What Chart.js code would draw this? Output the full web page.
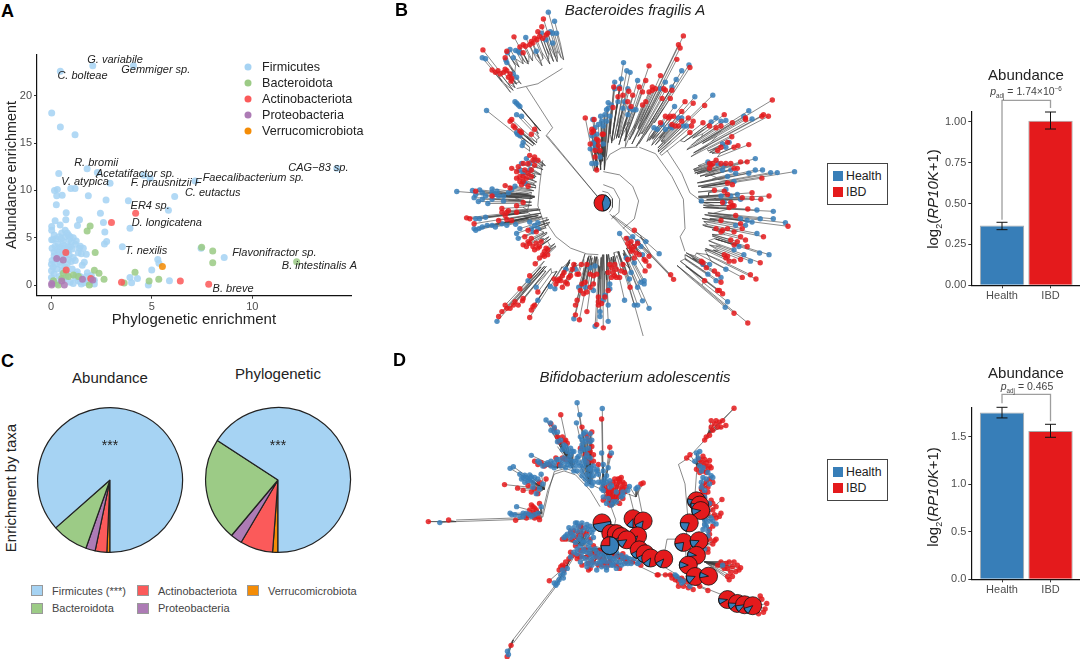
<!DOCTYPE html>
<html>
<head>
<meta charset="utf-8">
<title>Enrichment by taxa</title>
<script src="https://cdn.jsdelivr.net/npm/chart.js@4"></script>
<style>
  body { margin: 0; background: #fff; }
  #page { position: relative; width: 1080px; height: 663px; overflow: hidden; font-family: "Liberation Sans", Arial, sans-serif; color: #222; }
  canvas { position: absolute; }
  .t { position: absolute; transform: translate(-50%, -50%); white-space: nowrap; }
  .l { position: absolute; transform: translate(0, -50%); white-space: nowrap; }
  .letter { position: absolute; font-weight: bold; font-size: 18px; color: #000; transform: translate(0, -50%); }
  .dot { position: absolute; width: 7px; height: 7px; border-radius: 50%; transform: translate(-50%, -50%); }
  .sw { position: absolute; box-sizing: border-box; border: 1px solid #999; }
  .box { position: absolute; box-sizing: border-box; border: 1px solid #444; }
  sub, sup { font-size: 60%; line-height: 0; }
</style>
</head>
<body>
<div id="page">
  <canvas id="scatterA" width="380" height="295" style="left:0;top:40px"></canvas>
  <canvas id="pieAbundance" width="150" height="150" style="left:35px;top:405px"></canvas>
  <canvas id="piePhylo" width="150" height="150" style="left:203px;top:405px"></canvas>
  <canvas id="treeB" width="420" height="340" style="left:390px;top:0"></canvas>
  <canvas id="treeD" width="420" height="313" style="left:390px;top:350px"></canvas>
  <canvas id="barsB" width="175" height="250" style="left:905px;top:60px"></canvas>
  <canvas id="barsD" width="175" height="250" style="left:905px;top:360px"></canvas>
</div>
<script>
// Panel A: [phylogenetic enrichment, abundance enrichment]
const firmicutes = [
  [2.07,23.2],[4.09,23.2],[0.46,22.6],[0.03,18.2],[0.46,16.7],[1.19,15.9],[1.79,12.3],[0.38,11.8],[2.3,11.9],[14.2,12.35],
  [4.92,11.3],[4.6,11.6],[7.15,11],[2.93,10.75],[0.17,10],[0.31,10.1],[0.98,10.2],[1.19,10.2],[0.28,9.45],[0.55,9.5],
  [1.85,9.45],[2.73,9],[3.84,8.9],[6.14,9.35],[5.83,7.9],[0.26,8.5],[0.75,7.65],[2.45,7.6],[0.2,6.8],[0.73,6.9],
  [1.41,6.9],[2.6,6.6],[1.31,6.3],[0.45,6.35],[0.03,6.2],[3.92,6],[0.03,5.8],[2.67,5.6],[0.7,5.8],[0.53,5.5],
  [0.86,5.3],[2.76,4.6],[2.65,4.35],[3.54,4.05],[7.45,3.9],[8.6,2.9],[5.3,2.7],[5.36,2.3],[5,1.6],[5.88,0.45],
  [4.83,0],[4,0.25],[4.29,0.7],[3.92,0.8],[0.03,4.8],[0.1,4.8],[0.2,4.1],[0.05,3.9],[0.35,4.3],[0.45,4.0],
  [0.6,4.6],[0.7,5.1],[0.9,4.8],[1,4.5],[1.1,5],[1.2,4.3],[1.45,4.1],[1.6,3.9],[1.35,3.4],[1.5,3.3],
  [1.75,3.25],[1.65,2.4],[1.55,2.1],[0.85,4.1],[0.75,3.6],[0.55,3.3],[0.3,3.7],[0.15,3.5],[0.9,3.2],[1.1,2.9],
  [1,2.5],[0.8,2.2],[0.45,2.4],[0.25,2.7],[0.05,2.6],[0.02,2.2],[0.1,1.9],[0.02,1.5],[0.3,1.7],[0.15,1.2],
  [0.02,0.8],[0.4,0.9],[0.65,0.6],[0.95,0.3],[1.2,0.8],[1.35,0.45],[1.5,0.1],[1.65,0.25],[1.8,1.3],[2,1],
  [1.1,0.15],[2.15,0.1],[1.45,0.9],[1.75,0.9],[2.15,0.5],[0.3,0.15],[0.8,1.3],[1.25,1.1],
  [0.25,4.9],[0.5,4.9],[0.8,5.5],[0.95,5.1],[0.65,4.2],[0.4,3.5],[0.6,3.9],[1.05,3.8],[0.85,3.6],[0.95,4.05],
  [1.25,4.65],[0.15,3.1],[0.35,3.0],[0.65,2.9],[0.85,2.7],[1.2,2.6],[0.7,1.9],[0.5,2.1],[0.2,2.2],[0.1,0.5],
  [0.55,1.5],[1.05,1.7],[1.3,1.4],[1.55,0.6],[1.85,0.35],[1.45,0.35],[0.15,5.3],[0.4,5.1],[1.4,3.9],[0.75,0.9]
];
const bacteroidota = [
  [7.48,4],[8.03,3.6],[8.03,2.35],[12.2,2.45],[1.94,6.25],[1.79,5.7],[2.19,3.45],[2.15,1.55],[2.38,1.25],[2.63,0.6],
  [4.17,1.35],[3.63,0.2],[4.87,0.42],[5.35,0.6],[1.9,0],[0.61,1.25],[0.86,0.9],[1.11,1.05],[0.36,0],[1.36,0.9],
  [0.53,0.7],[0.12,0.45]
];
const actinobacteriota = [
  [4.2,7.6],[3,6.6],[0.75,1.6],[3.5,0.3],[6.42,0.42],[7.83,0.07],[1.97,0.7],[0.73,3.45]
];
const proteobacteria = [
  [0.03,0.17],[0.53,0.42],[0.66,0],[0.6,2.65],[0.28,2.8],[2.07,0.53],[1.56,0.6],[0.03,0]
];
const verrucomicrobiota = [[5.53,1.95]];
const speciesNames = ['G. variabile','Gemmiger sp.','C. bolteae','R. bromii','Acetatifactor sp.','V. atypica','F. prausnitzii F','Faecalibacterium sp.','CAG\u221283 sp.','C. eutactus','ER4 sp.','D. longicatena','T. nexilis','Flavonifractor sp.','B. intestinalis A','B. breve'];
const speciesX = [3.18,5.2,1.56,2.24,4.19,1.69,5.71,10.05,13.28,8.03,4.92,5.75,4.72,11.09,13.33,9.04];
const speciesY = [23.8,22.75,22.1,12.87,11.78,10.86,10.79,11.32,12.42,9.74,8.4,6.56,3.56,3.42,2,-0.42];

// Panel C: share of enrichment, in slice order starting at six o'clock
const pieTaxa = ['Verrucomicrobiota','Actinobacteriota','Proteobacteria','Bacteroidota','Firmicutes'];
const pieAbundance = [0.7,2.6,2.1,8.1,86.5];
const piePhylogenetic = [1.2,7.3,2.6,23.1,65.8];

// Panels B, D: bars
const groups = ['Health','IBD'];
const barB = [0.365,1.005];
const barBLow = [0.34,0.955];
const barBHigh = [0.385,1.059];
const barD = [1.756,1.563];
const barDLow = [1.7,1.496];
const barDHigh = [1.812,1.633];

// Panel B tree layout: one hub per clade, tips by group
const bHubs = [[505,175],[410,185],[385,250],[465,400],[445,530],[430,590],[450,650],[480,680],[490,735],[470,800],[545,790],[590,770],[640,770],[700,755],[640,510],[680,430],[745,440],[770,420],[880,425],[960,450],[920,520],[930,580],[945,640],[965,720],[890,770]];
const bRed = [
  [[457,46],[452,70],[440,85],[465,95],[430,105],[420,115],[415,125],[445,100],[455,105],[470,90],[437,110],[425,120]],
  [[367,101],[395,125],[395,150],[345,145],[272,141],[402,130],[385,132],[340,165]],
  [[300,203],[318,205],[345,205],[358,237],[355,215],[335,210],[310,210],[325,215],[350,225],[340,200],[360,228]],
  [[360,355],[355,360],[390,395],[430,385],[420,400],[370,380],[365,375],[385,390]],
  [[415,465],[430,470],[440,480],[395,490],[375,515],[385,530],[410,520],[430,495],[400,510],[360,505],[420,530],[395,545],[340,558],[355,565],[390,555],[410,560],[425,480],[410,490],[380,500],[385,545],[405,535],[420,510],[395,530],[375,535]],
  [[250,575],[330,628],[375,620],[395,610],[345,640],[300,590]],
  [[222,657],[232,660],[245,675],[345,662],[360,665],[330,640],[350,635],[320,665],[340,650],[375,640]],
  [[410,695],[435,700]],
  [[395,740],[405,745],[420,720],[425,745],[440,750],[450,730],[455,770],[470,755],[445,780],[432,798],[465,750],[400,715],[415,735],[435,735],[445,745],[460,760],[470,770],[430,755],[410,730],[460,775]],
  [[415,835],[385,875],[365,925],[380,925],[340,925],[320,960],[330,945],[425,930],[415,963],[440,885],[393,912],[355,935],[370,915],[345,935],[420,940],[430,925],[395,905]],
  [[495,860],[510,850],[520,825],[535,840],[550,800],[560,830],[515,870],[505,845],[525,855],[500,850],[515,835],[530,860],[545,815],[490,845],[540,835]],
  [[573,800],[600,830],[620,830],[575,860],[590,885],[560,910],[555,925],[590,945],[580,890],[610,860],[555,955],[567,970],[590,800],[610,835],[585,855],[600,870],[570,880],[625,900],[565,830]],
  [[660,800],[670,825],[665,840],[680,815],[625,915],[635,920],[655,880],[640,995],[620,985],[675,835],[665,810],[675,800],[655,825],[680,840],[645,900],[625,925],[695,820]],
  [[735,695],[710,720],[735,745],[720,745],[740,765],[715,785],[705,825],[690,840],[770,790],[780,805],[780,775],[768,820],[722,870],[846,832],[855,846],[725,730],[745,735],[730,755],[715,735],[750,770],[725,760],[700,800],[735,780],[765,785]],
  [[585,350],[612,355],[605,385],[620,415],[637,400],[615,470],[620,510],[600,430],[625,435],[610,390],[625,420],[630,450],[615,450],[640,400],[605,395]],
  [[672,255],[690,260],[718,268],[725,315],[670,318],[685,285],[750,255],[760,310],[700,280],[715,300],[730,280]],
  [[770,235],[780,270],[790,265],[815,220],[820,290],[850,265],[865,170],[875,135],[885,98],[870,125],[905,195],[780,190],[790,255],[800,260],[760,270],[770,300],[825,260],[845,290],[830,265]],
  [[815,365],[840,350],[855,345],[880,330],[890,300],[915,305],[870,375],[905,395],[915,360],[950,312],[850,370],[880,360],[900,350],[830,345],[910,375],[860,375],[845,345]],
  [[945,365],[965,375],[1035,365],[1010,340],[1075,350],[1130,340],[1157,295],[1145,345],[985,380],[1000,375],[1075,355],[1125,345]],
  [[1033,408],[1052,435],[1085,432],[990,450],[1020,425],[1000,440],[1040,440]],
  [[965,490],[985,480],[1015,490],[1040,505],[1080,485],[1125,535],[1020,550],[965,505],[1050,505],[975,490],[1000,490],[1060,485],[1030,490],[1035,555],[970,495]],
  [[980,572],[1020,585],[1095,597],[1122,600],[1147,590],[1005,610],[1010,575],[1095,580],[1065,595]],
  [[1035,620],[1082,630],[1045,650],[1205,683],[985,690],[1065,690],[1000,665],[1030,610],[1040,620],[1025,625],[1060,675],[1020,690],[1040,700],[1005,695]],
  [[1000,700],[1060,715],[1030,725],[1130,715],[1040,740],[1080,745],[1010,770],[1025,790],[1060,785],[1120,795],[1020,775],[1015,780],[1050,730],[1075,725],[1040,790]],
  [[945,795],[990,830],[1065,840],[1090,832],[1107,845],[1000,855],[950,850],[1040,950],[1082,980],[990,880],[1005,890],[940,790],[955,810],[980,820],[995,880]]
];
const bBlue = [
  [[472,25],[491,53],[497,90],[485,90],[485,120],[450,90],[478,85],[465,110]],
  [[403,103],[372,143],[380,145],[347,150],[435,145],[342,172],[270,165],[280,168],[365,165],[355,140],[385,150],[345,180]],
  [[365,215],[375,225]],
  [[283,327],[375,305],[380,310],[390,345],[375,395],[385,405],[392,435],[370,300],[385,315],[378,400],[395,425],[375,340]],
  [[390,490],[405,475],[400,550],[370,560],[415,510],[415,490],[385,510],[395,520],[430,480]],
  [[192,576],[240,573],[262,571],[300,568],[315,575],[245,595],[258,607],[287,613],[310,585],[335,605],[360,570],[335,590],[250,585],[270,580],[280,590],[300,578],[320,590],[350,580],[270,600],[300,600]],
  [[250,660],[262,660],[245,690],[270,685],[310,685],[330,675],[372,677],[250,695],[300,680],[285,680],[260,690],[345,680],[280,655]],
  [[375,705],[380,720],[440,672],[415,670],[420,690],[385,690],[430,680],[440,690],[425,700]],
  [],
  [[315,975],[410,850],[435,870],[440,910]],
  [[478,868],[492,875],[525,815],[555,815]],
  [[615,805],[565,870],[610,880],[550,967],[600,810],[585,870]],
  [[655,925],[655,975],[630,945],[630,960],[660,875],[640,910],[615,990],[645,895],[660,860]],
  [[715,720],[690,705],[770,730],[755,745],[811,767],[710,780],[705,910],[745,870],[765,860],[780,935],[745,925],[735,925],[760,912],[730,715],[745,730],[760,770],[735,795],[720,845],[765,850],[755,855],[725,825]],
  [[608,355],[632,345],[645,340],[660,345],[605,405],[610,430],[605,490],[618,490],[610,425],[640,430],[650,325],[655,303],[615,380],[625,370],[635,360],[650,360],[620,400],[615,445],[630,470],[640,375],[655,320],[665,310],[600,445]],
  [[702,180],[712,205],[722,210],[695,230],[675,240],[700,320],[715,340],[740,325],[685,300],[705,300],[720,320],[690,255],[715,260],[730,325],[675,260]],
  [[745,235],[830,240],[880,205],[863,232],[902,187],[850,255],[815,260]],
  [[795,380],[820,370],[858,315],[880,350],[895,375],[920,285],[975,280],[850,380],[870,350],[885,375],[845,375],[830,385],[805,385]],
  [[985,350],[1015,358],[1085,328],[1095,353],[970,362],[1000,360],[1070,345]],
  [[1005,430],[1025,425],[1015,440]],
  [[1105,475],[1005,510],[1045,520],[1105,510],[1127,510],[1152,518],[1172,518],[1225,515],[1040,545],[1010,495],[1030,510],[990,490],[1085,520],[1020,530],[960,485]],
  [[940,605],[1015,570],[1050,585],[1010,610],[1060,600],[1030,590],[1000,590]],
  [[1110,633],[1160,637],[1160,660],[1120,660],[1197,672],[1060,660],[1045,680],[1075,680],[1095,670],[1080,665]],
  [[1110,705],[1055,745],[1147,770],[1118,765],[1090,790],[1015,815],[1040,755],[1070,770]],
  [[965,800],[960,830],[1020,915],[1013,932],[985,850],[945,800],[1000,840]]
];
const bRoot = [637,611];
const bBranches = [
  [[637,575],[655,580],[668,598],[668,625],[658,640]],
  [[640,555],[672,567],[690,600],[688,640],[665,660]],
  [[640,515],[690,525],[730,560],[748,605],[735,660],[700,690]],
  [[650,480],[660,462],[695,442],[745,440]],
  [[750,440],[800,460],[850,530],[885,600],[890,690],[875,715]],
  [[835,450],[880,520],[905,580],[945,610]],
  [[875,715],[890,760]],
  [[625,770],[590,768],[540,750],[495,715],[465,670]],
  [[465,690],[440,620],[445,560],[455,480]],
  [[375,260],[440,245],[515,198]],
  [[405,255],[485,380],[465,405]],
  [[625,595],[465,405]],
  [[626,596],[468,404]],
  [[660,645],[850,840]],
  [[670,650],[780,730]],
  [[665,650],[775,735]],
  [[720,870],[762,1020]]
];

// Panel D tree layout
const dHubs = [[190,516],[450,490],[460,415],[500,350],[545,350],[600,400],[640,420],[665,470],[740,440],[960,245],[925,340],[935,420],[945,500],[950,590],[950,640],[1110,775],[575,590],[640,600],[530,650],[365,880],[850,680]];
const dRed = [
  [[105,516],[167,511]],
  [[372,512],[410,495],[430,505],[445,510],[420,465],[425,470],[435,480],[445,460],[405,505],[430,475],[440,500],[425,490],[415,480]],
  [[338,402],[378,413],[445,395],[465,385],[395,420],[420,425],[440,430],[410,405],[430,415]],
  [[430,330],[450,335],[525,325],[460,345],[440,340],[475,340],[495,320],[515,320],[505,340]],
  [[510,187],[480,215],[525,265],[505,270],[520,270],[500,255],[515,255],[530,275],[490,230]],
  [[605,240],[575,225],[610,310],[610,330],[595,265],[600,300],[590,250],[605,285],[585,310],[570,290],[595,330]],
  [[635,200],[660,287],[660,313],[625,340]],
  [[685,385],[700,395],[670,395],[680,410],[690,425],[660,430],[645,410],[650,440],[670,445],[700,445],[690,460],[680,400],[665,415],[655,425],[675,430],[695,410],[680,445],[660,455],[690,395],[705,425],[660,400],[675,385],[690,385],[705,400],[665,440],[650,420],[685,435],[660,465],[710,410],[640,450],[695,380],[670,420],[700,415]],
  [[762,397],[755,400]],
  [[1040,167],[970,205],[985,205],[1015,220],[1005,205],[990,225],[975,235],[950,265],[980,215],[1000,225],[970,225],[995,210],[965,250],[955,255]],
  [[965,328],[945,315],[970,350],[955,365],[905,310],[965,345],[950,345],[940,335],[950,325],[895,320],[935,325],[955,335],[960,355],[945,360],[935,365],[925,355]],
  [[975,395],[960,410],[955,395],[950,430],[945,405],[965,385],[940,415],[960,425],[945,425]],
  [[1003,448],[980,495],[995,500],[1000,490],[965,540],[960,490],[970,450],[950,445],[975,460],[985,470],[975,480],[965,465],[950,470],[965,555],[975,530],[985,505]],
  [[980,575],[965,570],[960,600],[960,610],[975,585],[985,570],[955,575]],
  [[1060,658],[1050,650],[1030,672],[1025,695],[1000,640],[1020,660],[1045,670],[1035,655],[1015,645],[1040,640],[1025,640],[1010,660],[1055,665],[990,650],[1020,685],[1035,685]],
  [[1140,768],[1120,745],[1130,795],[1115,800],[1135,785],[1125,755]],
  [[515,570],[540,550],[545,570],[570,530],[580,555],[560,565],[550,545],[575,535],[590,550],[565,550],[525,570],[555,590],[600,570]],
  [[570,605],[560,630],[590,625],[595,645],[610,590],[630,605],[650,610],[670,610],[620,625],[645,640],[730,640],[680,650],[600,615],[570,625],[640,650],[610,640],[585,600],[615,615],[640,605],[660,640],[700,615],[675,620],[635,630],[600,660],[625,650],[690,625],[755,650],[710,640],[560,620],[575,650],[595,665],[655,650],[690,660],[705,630],[805,680]],
  [[520,655],[505,665],[515,650],[520,665],[475,698],[545,620],[535,630],[540,610],[525,640],[510,655]],
  [[358,897],[346,932]],
  [[808,680],[860,695],[915,725],[960,728],[895,700],[880,690],[900,720],[850,690],[870,700],[920,700],[830,680],[845,680],[870,715],[885,715],[905,705],[935,715]]
];
const dBlue = [
  [[140,519]],
  [[375,470],[355,490],[370,495],[395,500],[415,495],[385,500],[440,490],[450,470],[430,495],[405,490],[420,500],[395,490],[360,495]],
  [[355,352],[365,347],[400,373],[420,378],[440,385],[435,430],[415,372],[410,390],[395,380],[425,395],[405,380],[450,370],[445,415],[385,370],[430,380],[415,385],[400,395],[390,385],[425,410],[455,400]],
  [[420,312],[440,330],[470,335],[520,320],[498,325],[480,345],[455,345],[510,345],[530,340],[490,335],[445,335],[505,325],[515,335],[480,330],[465,340],[525,350],[540,345],[490,350]],
  [[465,203],[478,212],[490,240],[500,270],[540,290],[550,300],[560,320],[530,300],[520,280],[545,330],[535,320],[555,345],[500,240],[510,265],[525,285],[540,310],[515,295],[545,300],[555,330],[530,330],[550,360],[480,235],[490,225]],
  [[560,150],[568,187],[558,212],[580,245],[575,280],[600,270],[590,310],[575,360],[600,390],[605,405],[590,335],[570,255],[585,270],[570,300],[595,290],[580,330],[600,350],[560,360],[610,375],[590,370],[585,240],[600,245],[590,260],[575,265],[605,265],[575,290],[585,295],[600,320],[610,345],[565,315],[580,345],[595,355],[570,345],[585,385],[600,375],[610,395],[620,360],[590,400],[565,335],[575,375],[605,360],[585,320]],
  [[637,168],[635,305],[665,305],[625,370],[655,350],[640,360],[625,395],[650,375],[640,340],[620,355]],
  [[635,395],[665,465],[660,410],[640,440],[650,395],[640,420],[635,415],[650,460],[645,385],[660,390],[640,400],[655,445],[670,455],[680,455],[700,435],[715,420],[695,440],[680,425],[665,405]],
  [[720,408],[740,415],[745,410],[700,425]],
  [],
  [[925,305],[930,320],[935,345],[920,330],[945,350],[940,360],[960,365],[935,300]],
  [[970,375],[945,380],[950,420],[940,395],[955,385],[965,400],[950,440],[940,410],[975,380]],
  [[985,523],[960,515],[945,540],[950,510],[960,480],[965,460],[975,515],[955,530],[970,505],[950,525],[960,545]],
  [[950,600],[945,560],[960,560]],
  [[1005,650]],
  [],
  [[555,520],[575,520],[590,525],[525,560],[560,545],[590,560],[580,580],[610,565],[565,530],[540,545],[550,560],[570,560],[595,540],[530,555],[575,545],[535,535],[550,535],[560,520],[585,535],[600,530],[610,540],[545,555],[565,570],[575,575],[590,575],[600,580],[520,565],[540,565],[555,580],[570,590],[605,550],[595,590]],
  [[600,600],[620,610],[640,620],[660,625],[680,625],[700,630],[620,665],[650,657],[715,645],[600,630],[575,610],[560,600],[630,640],[665,640],[690,640],[590,610],[610,625],[650,640],[670,630],[720,630],[605,650],[635,655],[585,630],[625,625],[655,610],[695,650],[745,645],[670,650],[580,600],[600,615],[615,600],[630,615],[645,610],[660,610],[680,610],[695,620],[710,625],[590,645],[640,635],[655,625],[575,625],[605,640],[620,645],[635,640],[665,650],[680,640],[705,645],[725,645],[560,615],[570,640],[590,655],[650,665],[680,660],[735,630],[750,640]],
  [[495,712],[500,705],[518,690],[510,680],[530,660],[550,610],[490,705],[520,675],[505,695],[515,665],[540,625]],
  [[347,915],[350,925]],
  [[885,700],[865,685],[880,705],[905,715],[860,680],[875,695]]
];
const dBranches = [
  [[190,516],[450,507],[470,420],[490,370],[520,360],[555,372],[600,420],[630,470]],
  [[190,511],[455,502],[475,415],[490,362],[525,352],[560,365]],
  [[105,516],[190,516]],
  [[660,460],[678,510],[670,550]],
  [[720,430],[735,490]],
  [[745,420],[760,495]],
  [[640,560],[780,630],[825,655],[900,700],[1000,740],[1100,775]],
  [[835,570],[865,570],[880,580]],
  [[835,570],[825,625]],
  [[870,340],[890,400],[900,520]],
  [[1040,167],[900,320],[870,340]],
  [[930,300],[920,440]],
  [[900,520],[890,580],[895,650]],
  [[950,640],[1040,655]],
  [[560,600],[495,710],[360,885],[348,920]],
  [[565,600],[500,710],[365,890]],
  [[545,350],[580,390],[640,420]],
  [[500,285],[545,350]],
  [[505,280],[550,345]],
  [[510,278],[553,342]]
];
// Large nodes of panel D: position, blue share, slice start in degrees
const dPieX = [636,731,762,745,663,680,695,660,712,750,768,785,825,925,935,938,903,886,933,925,900,921,962,1020,1050,1072,1097];
const dPieY = [520,507,514,560,552,553,562,590,572,603,615,628,631,452,465,482,520,580,575,620,650,685,684,756,768,772,775];
const dPieBlue = [0.5,0.12,0.15,0.13,0.05,0.05,0.1,0.75,0.15,0.15,0.15,0.12,0.12,0.12,0.12,0.12,0.2,0.2,0.15,0.1,0.12,0.15,0.1,0.1,0.12,0.12,0.12];
const dPieStart = [-10,90,100,110,120,120,120,-90,120,100,100,100,110,150,150,150,110,100,130,170,160,130,170,150,140,130,120];

const NAVY = '#377eb8';
const CRIMSON = '#e41a1c';
const TIP_BLUE = 'rgba(55,126,184,0.85)';
const TIP_RED = 'rgba(228,26,28,0.85)';
const TICK = '#4d4d4d';
const INK = '#333333';
const FONT = '"Liberation Sans", Arial, sans-serif';
const TAXA_COLORS = { firm: '#a6d3f3', bact: '#9ccb86', acti: '#fb5a5a', prot: '#ad7bb5', verr: '#f48c06' };
// Clade branches split off at staggered depths between the clade radius and the tips
const BRANCH_DEPTHS = [0, 0.35, 0.15, 0.5, 0.25, 0.05, 0.4];

Chart.defaults.font.family = FONT;
Chart.defaults.animation = false;
Chart.defaults.responsive = false;
Chart.defaults.plugins.legend.display = false;
Chart.defaults.plugins.tooltip.enabled = false;

const page = document.getElementById('page');

/** Put one piece of real text on the page. */
function addText(html, x, y, size, opts = {}) {
    const el = document.createElement('div');
    el.className = opts.left ? 'l' : 't';
    el.innerHTML = html;
    el.style.left = x + 'px';
    el.style.top = y + 'px';
    el.style.fontSize = size + 'px';
    if (opts.color) el.style.color = opts.color;
    if (opts.rotate) el.style.transform = 'translate(-50%,-50%) rotate(-90deg)';
    page.appendChild(el);
}

function toPoints(pairs) {
    return pairs.map(p => ({ x: p[0], y: p[1] }));
}

function axisStyle() {
    return {
        border: { color: '#111', width: 1.2 },
        grid: { drawOnChartArea: false, tickLength: 3, color: INK, tickWidth: 1, offset: false },
    };
}

// Panel A -------------------------------------------------------------------
function scatterSet(pairs, color, order) {
    return { data: toPoints(pairs), backgroundColor: color + 'dd', borderWidth: 0, pointRadius: 3.5, order };
}

const speciesLabels = {
    id: 'speciesLabels',
    afterDatasetsDraw(chart) {
        const { ctx, scales } = chart;
        ctx.save();
        ctx.font = 'italic 11px ' + FONT;
        ctx.fillStyle = '#222';
        ctx.textAlign = 'center';
        ctx.textBaseline = 'middle';
        speciesNames.forEach((name, i) => {
            ctx.fillText(name, scales.x.getPixelForValue(speciesX[i]), scales.y.getPixelForValue(speciesY[i]));
        });
        ctx.restore();
    },
};

new Chart(document.getElementById('scatterA'), {
    type: 'scatter',
    data: {
        datasets: [
            scatterSet(firmicutes, TAXA_COLORS.firm, 5),
            scatterSet(bacteroidota, TAXA_COLORS.bact, 4),
            scatterSet(actinobacteriota, TAXA_COLORS.acti, 3),
            scatterSet(proteobacteria, TAXA_COLORS.prot, 2),
            scatterSet(verrucomicrobiota, TAXA_COLORS.verr, 1),
        ],
    },
    options: {
        layout: { padding: { top: 14.3, right: 29 } },
        scales: {
            x: {
                type: 'linear', min: -0.7, max: 14.9,
                ...axisStyle(),
                ticks: { stepSize: 5, includeBounds: false, color: TICK, font: { size: 11 }, padding: 2, maxRotation: 0 },
                title: { display: true, text: 'Phylogenetic enrichment', color: '#222', font: { size: 15 }, padding: { top: 0, bottom: 6 } },
                afterFit: s => { s.height = 39.3; },
            },
            y: {
                type: 'linear', min: -1.13, max: 24.4,
                ...axisStyle(),
                ticks: { stepSize: 5, includeBounds: false, color: TICK, font: { size: 11 }, padding: 2 },
                title: { display: true, text: 'Abundance enrichment', color: '#222', font: { size: 14.4 }, padding: { top: 3.6, bottom: 0 } },
                afterFit: s => { s.width = 37; },
            },
        },
    },
    plugins: [speciesLabels],
});

// Panel C -------------------------------------------------------------------
function makePie(id, values) {
    new Chart(document.getElementById(id), {
        type: 'pie',
        data: {
            labels: pieTaxa,
            datasets: [{
                data: values,
                backgroundColor: [TAXA_COLORS.verr, TAXA_COLORS.acti, TAXA_COLORS.prot, TAXA_COLORS.bact, TAXA_COLORS.firm],
                borderColor: '#222',
                borderWidth: 1.2,
            }],
        },
        options: { rotation: 180, layout: { padding: 2 } },
    });
}
makePie('pieAbundance', pieAbundance);
makePie('piePhylo', piePhylogenetic);

// Panels B, D: trees --------------------------------------------------------
function branchSet(segments) {
    const data = [];
    segments.forEach(seg => {
        seg.forEach(p => data.push({ x: p[0], y: p[1] }));
        data.push({ x: null, y: null });
    });
    return { data, showLine: true, pointRadius: 0, borderColor: '#3a3a3a', borderWidth: 0.6, spanGaps: false, order: 3 };
}

function tipSet(tips, color, order) {
    return { data: toPoints(tips.flat()), backgroundColor: color, borderWidth: 0, pointRadius: 2.7, order };
}

const nodePies = {
    id: 'nodePies',
    afterDatasetsDraw(chart, args, opts) {
        const { ctx, scales } = chart;
        opts.x.forEach((vx, i) => {
            const cx = scales.x.getPixelForValue(vx);
            const cy = scales.y.getPixelForValue(opts.y[i]);
            const a0 = opts.start[i] * Math.PI / 180;
            const a1 = a0 + opts.blue[i] * Math.PI * 2;
            ctx.save();
            ctx.strokeStyle = '#111';
            ctx.lineWidth = 0.8;
            ctx.beginPath();
            ctx.arc(cx, cy, opts.radius, 0, Math.PI * 2);
            ctx.fillStyle = CRIMSON;
            ctx.fill();
            ctx.beginPath();
            ctx.moveTo(cx, cy);
            ctx.arc(cx, cy, opts.radius, a0, a1);
            ctx.closePath();
            ctx.fillStyle = NAVY;
            ctx.fill();
            ctx.stroke();
            ctx.beginPath();
            ctx.arc(cx, cy, opts.radius, 0, Math.PI * 2);
            ctx.stroke();
            ctx.restore();
        });
    },
};

function makeTree(id, w, h, segments, red, blue, pies, redOnTop) {
    new Chart(document.getElementById(id), {
        type: 'scatter',
        data: { datasets: [branchSet(segments), tipSet(blue, TIP_BLUE, redOnTop ? 2 : 1), tipSet(red, TIP_RED, redOnTop ? 1 : 2)] },
        options: {
            layout: { padding: 0 },
            scales: {
                x: { type: 'linear', min: 0, max: w, display: false },
                y: { type: 'linear', min: 0, max: h, reverse: true, display: false },
            },
            plugins: { nodePies: pies },
        },
        plugins: [nodePies],
    });
}

// Clade branches of the circular tree run along the ray to the root
function radialClades(hubs, red, blue, root) {
    const out = [];
    hubs.forEach((hub, i) => {
        const r = Math.hypot(hub[0] - root[0], hub[1] - root[1]);
        const bases = red[i].concat(blue[i]).map((tip, n) => {
            const d = Math.hypot(tip[0] - root[0], tip[1] - root[1]);
            const level = r + Math.max(d - r, 0) * BRANCH_DEPTHS[n % BRANCH_DEPTHS.length];
            const base = [root[0] + (tip[0] - root[0]) * level / d, root[1] + (tip[1] - root[1]) * level / d];
            out.push([tip, base]);
            return base;
        });
        bases.sort((a, b) => Math.atan2(a[1] - root[1], a[0] - root[0]) - Math.atan2(b[1] - root[1], b[0] - root[0]));
        out.push(bases);
    });
    return out;
}

function hubFans(hubs, red, blue) {
    const out = [];
    hubs.forEach((hub, i) => {
        red[i].concat(blue[i]).forEach(tip => out.push([tip, hub]));
    });
    return out;
}

makeTree('treeB', 1260, 1020, bBranches.concat(radialClades(bHubs, bRed, bBlue, bRoot)), bRed, bBlue,
    { x: [bRoot[0]], y: [bRoot[1]], blue: [0.42], start: [-70], radius: 8.3 }, true);
makeTree('treeD', 1260, 939, dBranches.concat(hubFans(dHubs, dRed, dBlue)), dRed, dBlue,
    { x: dPieX, y: dPieY, blue: dPieBlue, start: dPieStart, radius: 9 }, false);

// Bars ----------------------------------------------------------------------
const barNotes = {
    id: 'barNotes',
    afterDatasetsDraw(chart, args, opts) {
        const { ctx, scales: { x, y } } = chart;
        ctx.save();
        ctx.strokeStyle = '#9e9e9e';
        ctx.lineWidth = 1.3;
        ctx.beginPath();
        ctx.moveTo(x.getPixelForValue(1), y.getPixelForValue(opts.leftEnd));
        ctx.lineTo(x.getPixelForValue(1), y.getPixelForValue(opts.top));
        ctx.lineTo(x.getPixelForValue(2), y.getPixelForValue(opts.top));
        ctx.lineTo(x.getPixelForValue(2), y.getPixelForValue(opts.rightEnd));
        ctx.stroke();
        ctx.strokeStyle = '#111';
        ctx.lineWidth = 1;
        opts.low.forEach((lo, i) => {
            const px = x.getPixelForValue(i + 1);
            const yl = y.getPixelForValue(lo);
            const yh = y.getPixelForValue(opts.high[i]);
            ctx.beginPath();
            ctx.moveTo(px, yl); ctx.lineTo(px, yh);
            ctx.moveTo(px - 5.5, yl); ctx.lineTo(px + 5.5, yl);
            ctx.moveTo(px - 5.5, yh); ctx.lineTo(px + 5.5, yh);
            ctx.stroke();
        });
        ctx.restore();
    },
};

function makeBars(id, values, low, high, yMax, step, digits, paddingTop, xHeight, notes) {
    new Chart(document.getElementById(id), {
        type: 'bar',
        data: {
            datasets: [{
                data: values.map((v, i) => ({ x: i + 1, y: v })),
                backgroundColor: [NAVY, CRIMSON],
                borderColor: '#a8a8a8',
                borderWidth: 1,
                categoryPercentage: 1,
                barPercentage: 0.915,
            }],
        },
        options: {
            layout: { padding: { top: paddingTop } },
            scales: {
                x: {
                    type: 'linear', min: 0.367, max: 2.608, offset: false,
                    ...axisStyle(),
                    afterBuildTicks: s => { s.ticks = groups.map((g, i) => ({ value: i + 1 })); },
                    ticks: { color: TICK, font: { size: 11 }, padding: 1, maxRotation: 0, autoSkip: false, callback: v => groups[v - 1] },
                    afterFit: s => { s.height = xHeight; },
                },
                y: {
                    type: 'linear', min: 0, max: yMax,
                    ...axisStyle(),
                    ticks: { stepSize: step, includeBounds: false, color: TICK, font: { size: 11 }, padding: 2, callback: v => v.toFixed(digits) },
                    afterFit: s => { s.width = 66.3; },
                },
            },
            plugins: { barNotes: { low, high, ...notes } },
        },
        plugins: [barNotes],
    });
}
makeBars('barsB', barB, barBLow, barBHigh, 1.059, 0.25, 2, 52, 24.7, { top: 1.13, leftEnd: 0.40, rightEnd: 1.083 });
makeBars('barsD', barD, barDLow, barDHigh, 1.812, 0.5, 1, 47.3, 30.7, { top: 1.948, leftEnd: 1.855, rightEnd: 1.665 });

// Text and legends ----------------------------------------------------------
[['A', 1, 11], ['B', 395, 10], ['C', 1, 361], ['D', 393, 360]].forEach(([s, x, y]) => {
    const el = document.createElement('div');
    el.className = 'letter';
    el.textContent = s;
    el.style.left = x + 'px';
    el.style.top = y + 'px';
    page.appendChild(el);
});

const legendNames = ['Firmicutes', 'Bacteroidota', 'Actinobacteriota', 'Proteobacteria', 'Verrucomicrobiota'];
const legendColors = [TAXA_COLORS.firm, TAXA_COLORS.bact, TAXA_COLORS.acti, TAXA_COLORS.prot, TAXA_COLORS.verr];
legendNames.forEach((name, i) => {
    const dot = document.createElement('div');
    dot.className = 'dot';
    dot.style.left = '248px';
    dot.style.top = (67 + i * 16) + 'px';
    dot.style.background = legendColors[i];
    page.appendChild(dot);
    addText(name, 262, 67 + i * 16, 12.6, { left: true });
});

addText('Abundance', 110, 377, 15);
addText('Phylogenetic', 278, 373, 15);
addText('***', 110, 445, 14);
addText('***', 278, 445, 14);
addText('Enrichment by taxa', 10, 488, 15, { rotate: true });

const pieLegend = [
    ['Firmicutes (***)', TAXA_COLORS.firm, 31, 590.7],
    ['Bacteroidota', TAXA_COLORS.bact, 31, 608],
    ['Actinobacteriota', TAXA_COLORS.acti, 137, 590.7],
    ['Proteobacteria', TAXA_COLORS.prot, 137, 608],
    ['Verrucomicrobiota', TAXA_COLORS.verr, 247, 590.7],
];
pieLegend.forEach(([name, color, x, y]) => {
    const sw = document.createElement('div');
    sw.className = 'sw';
    sw.style.cssText = `left:${x}px;top:${y - 5.5}px;width:12px;height:11px;background:${color}`;
    page.appendChild(sw);
    addText(name, x + 21, y, 11, { left: true, color: '#444' });
});

addText('<i>Bacteroides fragilis A</i>', 635, 9, 15);
addText('<i>Bifidobacterium adolescentis</i>', 635, 376, 15);

function groupLegend(top) {
    const box = document.createElement('div');
    box.className = 'box';
    box.style.cssText = `left:827px;top:${top}px;width:61px;height:42px`;
    page.appendChild(box);
    [[NAVY, 8, 'Health'], [CRIMSON, 24, 'IBD']].forEach(([color, dy, name]) => {
        const sw = document.createElement('div');
        sw.style.cssText = `position:absolute;left:833px;top:${top + dy}px;width:10px;height:10px;background:${color}`;
        page.appendChild(sw);
        addText(name, 846, top + dy + 4.5, 12.3, { left: true });
    });
}
groupLegend(163);
groupLegend(459);

addText('Abundance', 1026, 74, 15);
addText('Abundance', 1026, 372, 15);
addText('<i>p</i><sub>adj</sub> = 1.74\u00d710<sup>\u22126</sup>', 1026, 91, 10.5, { color: '#444' });
addText('<i>p</i><sub>adj</sub> = 0.465', 1027, 386, 10.5, { color: '#444' });
addText('log<sub>2</sub>(<i>RP10K</i>+1)', 932, 199, 15, { rotate: true });
addText('log<sub>2</sub>(<i>RP10K</i>+1)', 932, 497, 15, { rotate: true });
</script>
</body>
</html>
